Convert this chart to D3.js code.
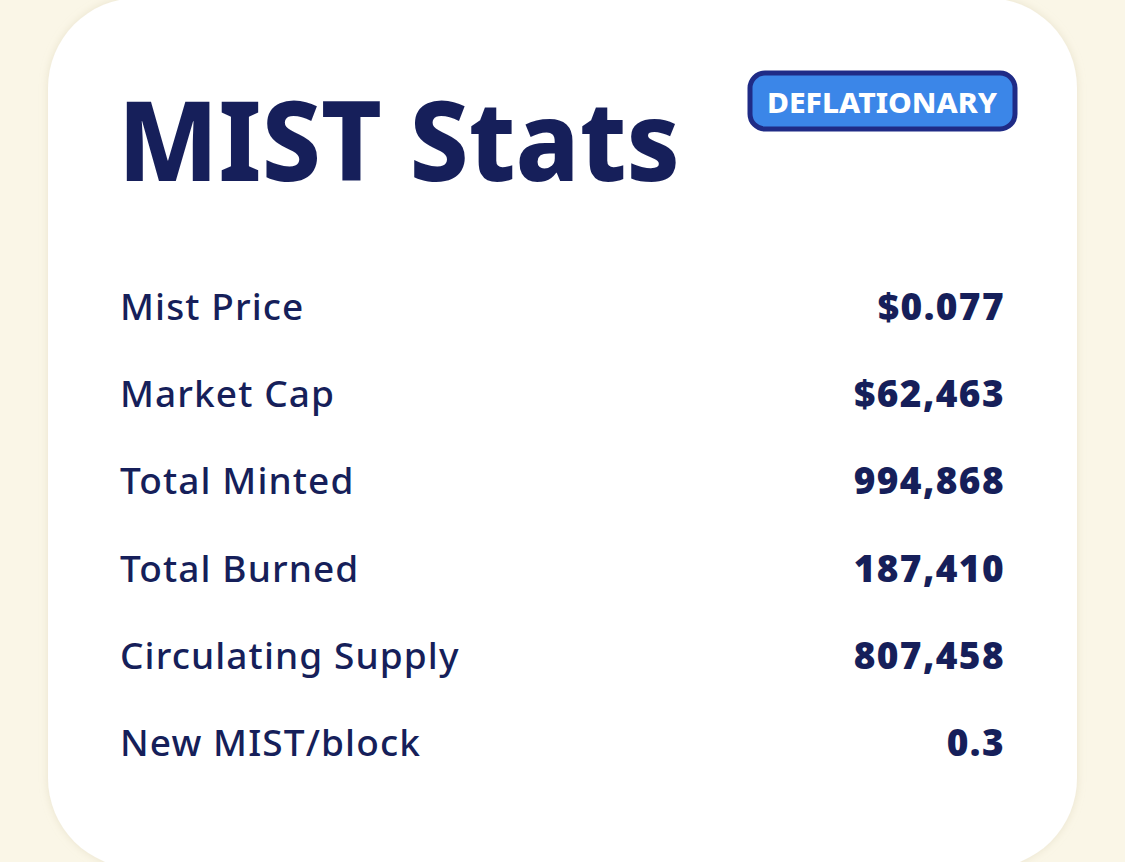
<!DOCTYPE html>
<html>
<head>
<meta charset="utf-8">
<script src="https://cdn.jsdelivr.net/npm/d3@7"></script>
<style>
  html, body { margin:0; padding:0; background:#faf6e7; }
  svg { display:block; }
</style>
</head>
<body>
<div class="chart"></div>
<script>
const statLabels = ['Mist Price', 'Market Cap', 'Total Minted', 'Total Burned', 'Circulating Supply', 'New MIST/block'];
const statValues = [0.077, 62463, 994868, 187410, 807458, 0.3];
const statFormats = ['$.3f', '$,.0f', ',.0f', ',.0f', ',.0f', '.1f'];
const title = 'MIST Stats';
const badge = 'DEFLATIONARY';

const W = 1125, H = 862;
const navy = '#161f5a';

const svg = d3.select('.chart')
    .append('svg')
    .attr('width', W)
    .attr('height', H);

const defs = svg.append('defs');
const f = defs.append('filter').attr('id', 'shadow')
    .attr('x', -0.1).attr('y', -0.1).attr('width', 1.2).attr('height', 1.2);
f.append('feDropShadow')
    .attr('dx', 0).attr('dy', 0).attr('stdDeviation', 4)
    .attr('flood-color', '#c9bf9a').attr('flood-opacity', 0.35);

// card
svg.append('rect')
    .attr('x', 48).attr('y', -2)
    .attr('width', 1029).attr('height', 870)
    .attr('rx', 90).attr('ry', 90)
    .attr('fill', '#fff')
    .attr('filter', 'url(#shadow)');

svg.append('text')
    .attr('x', 118).attr('y', 181)
    .attr('font-family', 'Noto Sans, sans-serif')
    .attr('font-weight', 800)
    .attr('font-size', 110)
    .attr('fill', navy)
    .attr('textLength', 562)
    .attr('lengthAdjust', 'spacingAndGlyphs')
    .text(title);

// badge
svg.append('rect')
    .attr('x', 750).attr('y', 73)
    .attr('width', 265).attr('height', 56)
    .attr('rx', 15)
    .attr('fill', '#3b86e8')
    .attr('stroke', '#1f2b86')
    .attr('stroke-width', 5);

svg.append('text')
    .attr('x', 882).attr('y', 113)
    .attr('text-anchor', 'middle')
    .attr('font-family', 'Noto Sans, sans-serif')
    .attr('font-weight', 800)
    .attr('font-size', 29)
    .attr('fill', '#fff')
    .attr('textLength', 230)
    .attr('lengthAdjust', 'spacingAndGlyphs')
    .text(badge);

const yScale = d3.scalePoint()
    .domain(statLabels)
    .range([320, 756]);

const rows = svg.selectAll('.row')
    .data(statLabels)
    .enter()
    .append('g')
    .attr('class', 'row')
    .attr('transform', d => `translate(0, ${yScale(d)})`);

rows.append('text')
    .attr('x', 120)
    .attr('font-family', 'Noto Sans, sans-serif')
    .attr('font-weight', 500)
    .attr('font-size', 37)
    .attr('letter-spacing', 1.1)
    .attr('fill', navy)
    .text(d => d);

rows.append('text')
    .attr('x', 1005)
    .attr('text-anchor', 'end')
    .attr('font-family', 'Noto Sans, sans-serif')
    .attr('font-weight', 900)
    .attr('font-size', 37)
    .attr('letter-spacing', 1.4)
    .attr('fill', navy)
    .text((d, i) => d3.format(statFormats[i])(statValues[i]));
</script>
</body>
</html>
